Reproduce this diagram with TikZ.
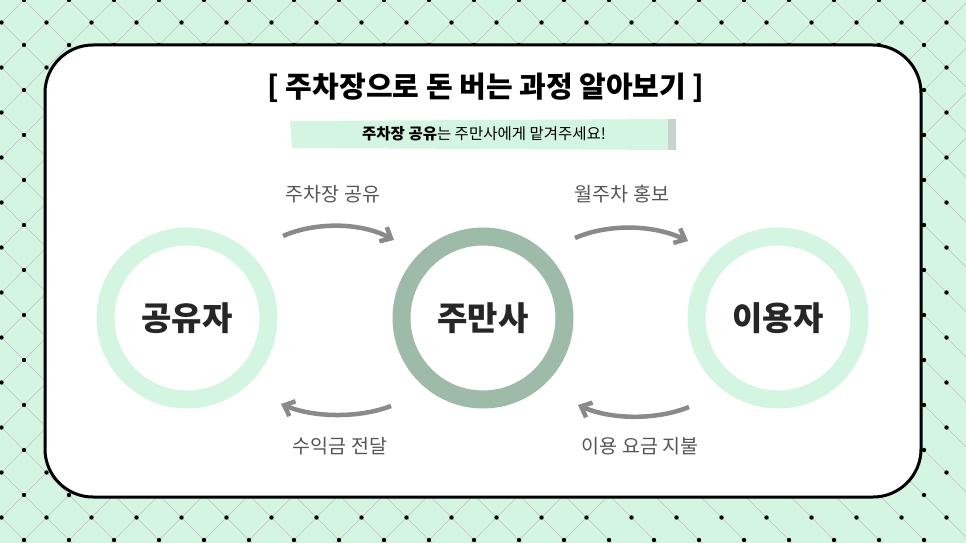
\documentclass[tikz,border=0pt]{standalone}
\usepackage{fontspec}
\setmainfont{Noto Sans CJK KR}
\usetikzlibrary{arrows.meta}
\definecolor{bgg}{HTML}{D5F5E3}
\definecolor{lg}{HTML}{D3F5E1}
\definecolor{mg}{HTML}{9DBBA8}
\definecolor{ag}{HTML}{8A8A8A}
\definecolor{tg}{HTML}{555555}
\begin{document}
\begin{tikzpicture}[x=1pt,y=-1pt,
 ring/.style={circle,draw=#1,line width=18pt,minimum size=163pt,inner sep=0pt,font=\fontsize{33}{36}\selectfont\bfseries,text=black!85},
 flow/.style={draw=ag,line width=4.5pt,-{Straight Barb[length=9pt,width=16pt,line width=4.5pt]}},
 lab/.style={text=tg,font=\fontsize{19.5}{22}\selectfont}]
\useasboundingbox (0,0) rectangle (966,543);
\fill[bgg] (0,0) rectangle (966,543);
\begin{scope}
\clip (0,0) rectangle (966,543);
\foreach \i in {-12,...,24}{
  \draw[black!25,line width=0.6pt] (24+45*\i,0) -- ++(560,560);
  \draw[black!25,line width=0.6pt] (24+45*\i,0) -- ++(-560,560);
}
\foreach \i in {0,...,22}{\foreach \j in {0,...,12}{
  \fill (24+45*\i,45*\j) circle (2.2pt);
  \fill (1.5+45*\i,22.5+45*\j) circle (2.2pt);
}}
\end{scope}
\draw[fill=white,line width=3pt,rounded corners=48pt] (45,45) rectangle (921,497);
\node (title) at (486,88) {\fontsize{29}{32}\selectfont\bfseries [ 주차장으로 돈 버는 과정 알아보기 ]};
\fill[lg] (290,121) -- (676,119) -- (676,150) -- (292,148) -- cycle;
\fill[mg!60] (668,119) rectangle (676,150);
\node (sub) at (484,134) {\fontsize{15.5}{18}\selectfont\textbf{주차장 공유}는 주만사에게 맡겨주세요!};
\node[ring=lg] (a) at (187,318) {공유자};
\node[ring=mg] (b) at (483,318) {주만사};
\node[ring=lg] (c) at (778,318) {이용자};
\coordinate (p1) at (283,236); \coordinate (p2) at (394,240);
\coordinate (p3) at (575,238); \coordinate (p4) at (688,241);
\coordinate (p5) at (391,406); \coordinate (p6) at (281,404);
\coordinate (p7) at (689,407); \coordinate (p8) at (578,405);
\draw[flow] (p1) .. controls (315,222) and (360,222) .. (p2);
\draw[flow] (p3) .. controls (607,224) and (652,224) .. (p4);
\draw[flow] (p5) .. controls (360,418) and (315,418) .. (p6);
\draw[flow] (p7) .. controls (657,420) and (612,420) .. (p8);
\node[lab] (l1) at (333,194) {주차장 공유};
\node[lab] (l2) at (622,194) {월주차 홍보};
\node[lab] (l3) at (340,446) {수익금 전달};
\node[lab] (l4) at (640,446) {이용 요금 지불};
\end{tikzpicture}
\end{document}
